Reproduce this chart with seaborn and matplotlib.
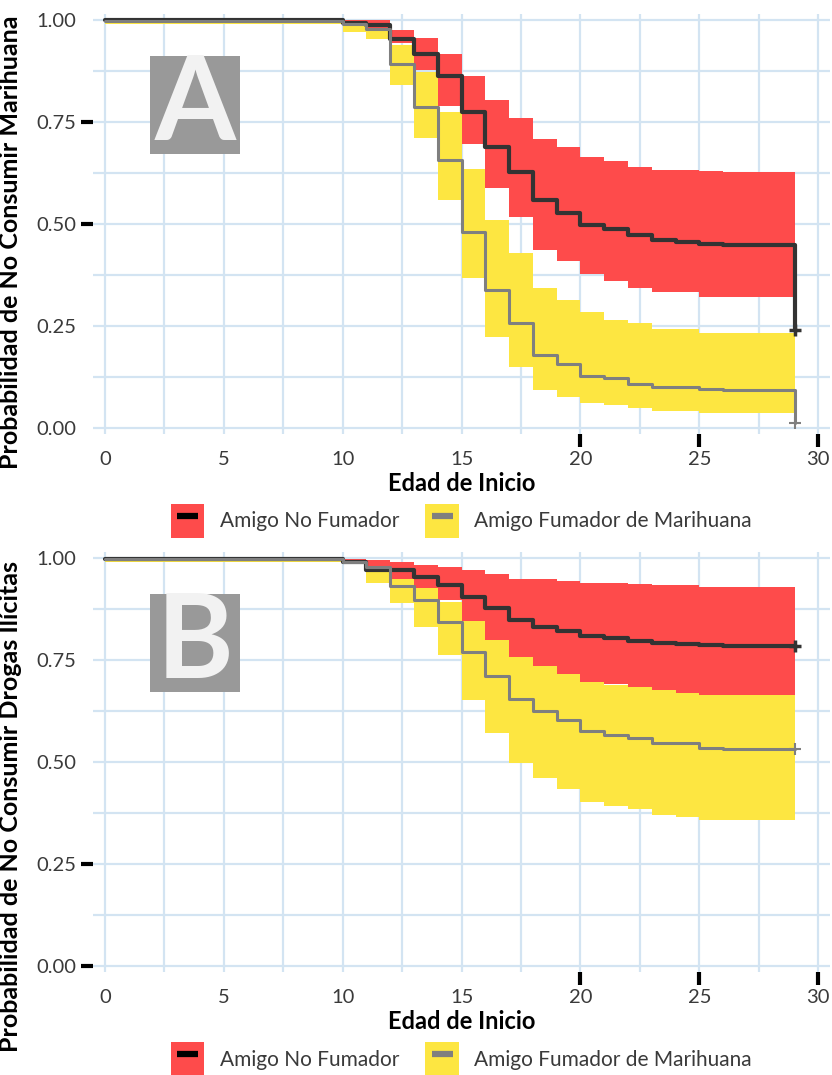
import numpy as np
import matplotlib
matplotlib.use('Agg')
import matplotlib.pyplot as plt
import matplotlib.markers as mmarkers
import seaborn as sns
from matplotlib.patches import Rectangle, Patch
from matplotlib.lines import Line2D
from matplotlib.legend_handler import HandlerTuple

# Kaplan-Meier step values (value holds from each age onwards)
ages = [0, 10, 11, 12, 13, 14, 15, 16, 17, 18, 19, 20, 21, 22, 23, 24, 25, 26, 27, 28, 29]

# Panel A: marihuana
a_nofum = [1.0, 0.993, 0.988, 0.953, 0.916, 0.863, 0.775, 0.688, 0.628, 0.559, 0.528,
           0.498, 0.487, 0.473, 0.461, 0.455, 0.451, 0.449, 0.449, 0.449, 0.240]
a_nofum_lo = [1.0, 0.985, 0.975, 0.944, 0.877, 0.790, 0.696, 0.588, 0.518, 0.436, 0.408,
              0.377, 0.360, 0.342, 0.332, 0.332, 0.322, 0.322, 0.322, 0.322, 0.322]
a_nofum_hi = [1.0, 1.0, 1.0, 0.975, 0.955, 0.918, 0.862, 0.804, 0.759, 0.708, 0.688,
              0.665, 0.655, 0.640, 0.632, 0.632, 0.630, 0.628, 0.628, 0.628, 0.628]
a_fum = [0.998, 0.990, 0.977, 0.892, 0.786, 0.657, 0.481, 0.338, 0.256, 0.179, 0.156,
         0.128, 0.122, 0.108, 0.101, 0.099, 0.095, 0.094, 0.094, 0.094, 0.012]
a_fum_lo = [0.990, 0.970, 0.953, 0.840, 0.711, 0.559, 0.367, 0.224, 0.150, 0.093, 0.076,
            0.061, 0.056, 0.049, 0.042, 0.042, 0.037, 0.037, 0.037, 0.037, 0.037]
a_fum_hi = [1.0, 0.995, 0.980, 0.940, 0.873, 0.775, 0.636, 0.510, 0.428, 0.343, 0.314,
            0.283, 0.265, 0.258, 0.243, 0.243, 0.233, 0.233, 0.233, 0.233, 0.233]

# Panel B: drogas ilicitas
b_nofum = [0.998, 0.990, 0.971, 0.970, 0.954, 0.934, 0.904, 0.877, 0.848, 0.832, 0.822,
           0.809, 0.803, 0.797, 0.792, 0.789, 0.786, 0.785, 0.785, 0.785, 0.785]
b_nofum_lo = [0.998, 0.985, 0.975, 0.950, 0.926, 0.897, 0.846, 0.800, 0.757, 0.735, 0.717,
              0.697, 0.691, 0.683, 0.676, 0.670, 0.664, 0.664, 0.664, 0.664, 0.664]
b_nofum_hi = [1.0, 0.997, 0.995, 0.991, 0.983, 0.979, 0.971, 0.962, 0.950, 0.948, 0.944,
              0.940, 0.938, 0.937, 0.934, 0.933, 0.930, 0.930, 0.930, 0.930, 0.930]
b_fum = [0.998, 0.990, 0.979, 0.932, 0.897, 0.844, 0.770, 0.710, 0.655, 0.625, 0.603,
         0.577, 0.566, 0.558, 0.547, 0.547, 0.534, 0.533, 0.533, 0.533, 0.533]
b_fum_lo = [0.990, 0.987, 0.938, 0.889, 0.832, 0.762, 0.652, 0.570, 0.497, 0.460, 0.433,
            0.403, 0.391, 0.385, 0.370, 0.364, 0.358, 0.358, 0.358, 0.358, 0.358]
b_fum_hi = [1.0, 0.995, 0.979, 0.958, 0.926, 0.893, 0.848, 0.799, 0.757, 0.735, 0.717,
            0.697, 0.690, 0.684, 0.676, 0.670, 0.664, 0.664, 0.664, 0.664, 0.664]

group_labels = ['Amigo No Fumador', 'Amigo Fumador de Marihuana']
y_labels = ['Probabilidad de No Consumir Marihuana', 'Probabilidad de No Consumir Drogas Ilícitas']
panel_tags = ['A', 'B']
x_ticks = [0, 5, 10, 15, 20, 25, 30]
y_ticks = [0, 0.25, 0.5, 0.75, 1.0]
# ticks that are drawn heavier/black in the reference
black_y = [[0.75, 0.5], [0.25, 0.0]]
black_x = [[20, 25, 30], [20, 25, 30]]

RED = '#fe4b4b'
YELLOW = '#fde641'
DARK = '#333333'
GREY = '#7f7f7f'
GRID = '#d3e4f2'
TXT = '#3a3a3a'

sns.set_style('white')
plt.rcParams['font.family'] = ['Lato', 'DejaVu Sans']

fig = plt.figure(figsize=(8.32, 10.75), dpi=100)
ax_a = fig.add_axes([0.1118, 0.5963, 0.886, 0.3907])
ax_b = fig.add_axes([0.1118, 0.0958, 0.886, 0.3907])

panels = [
    (ax_a, a_nofum, a_nofum_lo, a_nofum_hi, a_fum, a_fum_lo, a_fum_hi),
    (ax_b, b_nofum, b_nofum_lo, b_nofum_hi, b_fum, b_fum_lo, b_fum_hi),
]
ylabel_pos = [0.457, 0.393]

for i, (ax, nf, nf_lo, nf_hi, fu, fu_lo, fu_hi) in enumerate(panels):
    ax.fill_between(ages, fu_lo, fu_hi, step='post', color=YELLOW, lw=0, zorder=2)
    ax.fill_between(ages, nf_lo, nf_hi, step='post', color=RED, lw=0, zorder=3)
    sns.lineplot(x=ages, y=nf, ax=ax, drawstyle='steps-post', color=DARK, lw=3, zorder=4)
    sns.lineplot(x=ages, y=fu, ax=ax, drawstyle='steps-post', color=GREY, lw=2.2, zorder=5)
    ax.plot(ages[-1], fu[-1], marker='+', ms=8, mew=1.5, color=GREY, zorder=6)
    ax.plot(ages[-1], nf[-1], marker='+', ms=9, mew=2.5, color=DARK, zorder=6)

    ax.set_xlim(-0.5, 30.5)
    ax.set_ylim(-0.015, 1.015)
    ax.set_xticks(x_ticks)
    ax.set_xticks([2.5, 7.5, 12.5, 17.5, 22.5, 27.5], minor=True)
    ax.set_yticks(y_ticks)
    ax.set_yticks([0.125, 0.375, 0.625, 0.875], minor=True)
    ax.set_yticklabels(['0.00', '0.25', '0.50', '0.75', '1.00'])
    ax.grid(True, which='both', color=GRID, lw=1.6, zorder=0)
    ax.set_axisbelow(True)
    for s in ax.spines.values():
        s.set_visible(False)
    ax.tick_params(which='major', length=9, width=1.2, color='#b5b5b5',
                   labelsize=14.5, labelcolor=TXT, pad=3)
    ax.tick_params(which='minor', length=0)

    # heavier black tick marks over some of the grey ones
    ax.plot([0] * len(black_y[i]), black_y[i], transform=ax.get_yaxis_transform(),
            ls='none', marker=mmarkers.TICKLEFT, ms=9, mew=3, color='black', clip_on=False)
    ax.plot(black_x[i], [0] * len(black_x[i]), transform=ax.get_xaxis_transform(),
            ls='none', marker=mmarkers.TICKDOWN, ms=9, mew=3, color='black', clip_on=False)

    ax.set_xlabel('Edad de Inicio', fontsize=17, fontweight='bold', labelpad=3, color='black')
    ax.set_ylabel(y_labels[i], fontsize=18, fontweight='bold', color='black')
    ax.yaxis.set_label_coords(-0.0963, ylabel_pos[i])

    # panel tag
    ax.add_patch(Rectangle((1.89, 0.672), 3.79, 0.24, facecolor='#999999',
                           edgecolor='none', zorder=7))
    ax.text(3.80, 0.787, panel_tags[i], fontsize=84, fontweight='bold',
            color='#f2f2f2', ha='center', va='center', zorder=8)

    handles = [
        (Patch(facecolor=RED, edgecolor='none'),
         Line2D([], [], color='black', lw=4.5, solid_capstyle='butt')),
        (Patch(facecolor=YELLOW, edgecolor='none'),
         Line2D([], [], color=GREY, lw=4.5, solid_capstyle='butt')),
    ]
    leg = ax.legend(handles, group_labels, handler_map={tuple: HandlerTuple(ndivide=1, pad=0)},
                    loc='center', bbox_to_anchor=(0.5, -0.207), ncol=2, frameon=False,
                    fontsize=15, handlelength=1.6, handleheight=2.085, numpoints=2,
                    columnspacing=1.25, handletextpad=0.75)
    for t in leg.get_texts():
        t.set_color(TXT)

fig.savefig('out.png', dpi=100)
